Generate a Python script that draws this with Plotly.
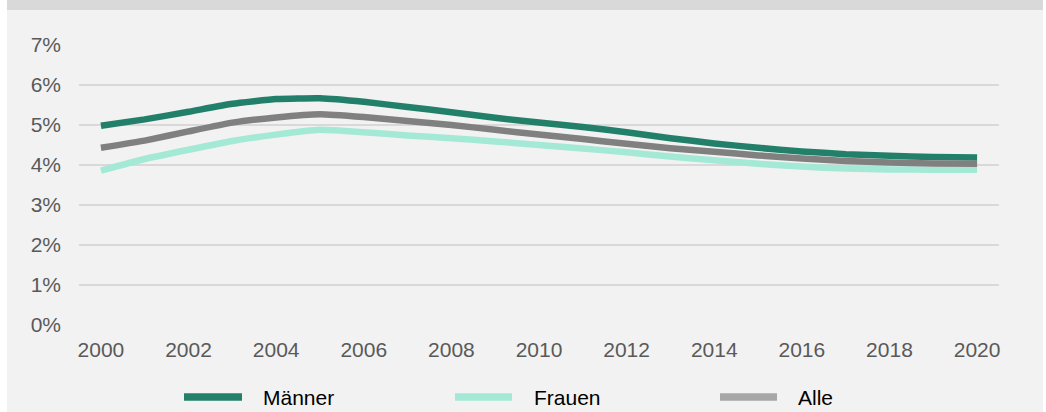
import plotly.graph_objects as go

years = list(range(2000, 2021))
maenner = [4.98, 5.14, 5.33, 5.53, 5.65, 5.67, 5.58, 5.45, 5.32, 5.18, 5.06, 4.95, 4.82, 4.67, 4.54, 4.43, 4.34, 4.27, 4.23, 4.20, 4.19]
frauen = [3.86, 4.15, 4.38, 4.60, 4.76, 4.88, 4.82, 4.74, 4.67, 4.59, 4.50, 4.41, 4.32, 4.21, 4.12, 4.03, 3.96, 3.91, 3.89, 3.88, 3.88]
alle = [4.43, 4.61, 4.84, 5.06, 5.19, 5.27, 5.20, 5.10, 5.00, 4.88, 4.76, 4.65, 4.53, 4.42, 4.33, 4.24, 4.16, 4.10, 4.06, 4.04, 4.03]

names = ["Männer", "Frauen", "Alle"]
line_colors = ["#22806a", "#a3e9d6", "#808080"]
legend_colors = ["#22806a", "#a3e9d6", "#a6a6a6"]

W, H = 1046, 412
L, R, T, B = 79, 999, 45, 325

def px(x):
    return (x - L) / (R - L)

def py(y):
    return (B - y) / (B - T)

fig = go.Figure()
for name, vals, col in zip(names, [maenner, frauen, alle], line_colors):
    fig.add_trace(go.Scatter(x=years, y=vals, mode="lines", name=name,
                             line=dict(color=col, width=6.5, shape="spline", smoothing=0.4),
                             showlegend=False, hoverinfo="x+y+name"))

shapes = [
    dict(type="rect", xref="paper", yref="paper", x0=px(7), x1=px(1043), y0=py(10), y1=py(430),
         fillcolor="#f2f2f2", line=dict(width=0), layer="below"),
    dict(type="rect", xref="paper", yref="paper", x0=px(7), x1=px(1043), y0=py(-5), y1=py(10),
         fillcolor="#d9d9d9", line=dict(width=0), layer="below"),
]
annotations = []
leg_sw = [(184, 242, 261), (455, 512, 532), (720, 777, 796)]
for (x0, x1, tx), name, col in zip(leg_sw, names, legend_colors):
    shapes.append(dict(type="line", xref="paper", yref="paper", x0=px(x0), x1=px(x1),
                       y0=py(397), y1=py(397), line=dict(color=col, width=7.5)))
    annotations.append(dict(xref="paper", yref="paper", x=px(tx), y=py(397), text=name,
                            showarrow=False, xanchor="left", yanchor="middle",
                            font=dict(family="Liberation Sans, Arial, sans-serif", size=21, color="#000000")))

fig.update_layout(
    width=W, height=H,
    margin=dict(l=L, r=W - R, t=T, b=H - B, pad=0),
    paper_bgcolor="#ffffff",
    plot_bgcolor="rgba(0,0,0,0)",
    font=dict(family="Liberation Sans, Arial, sans-serif", size=21, color="#595959"),
    shapes=shapes,
    annotations=annotations,
    showlegend=False,
    xaxis=dict(range=[1999.5, 2020.5], tick0=2000, dtick=2, showgrid=False, zeroline=False,
               showline=False, ticks="", ticklabelstandoff=10,
               tickfont=dict(size=21, color="#595959")),
    yaxis=dict(range=[0, 7], dtick=1, ticksuffix="%", showgrid=True, gridcolor="#d9d9d9",
               gridwidth=1.5, zeroline=False, showline=False, ticks="", ticklabelstandoff=17,
               tickfont=dict(size=21, color="#595959")),
)

fig.write_html("out.html", config={"displayModeBar": False},
               post_script="document.body.style.margin='0';document.body.style.overflow='hidden';")
